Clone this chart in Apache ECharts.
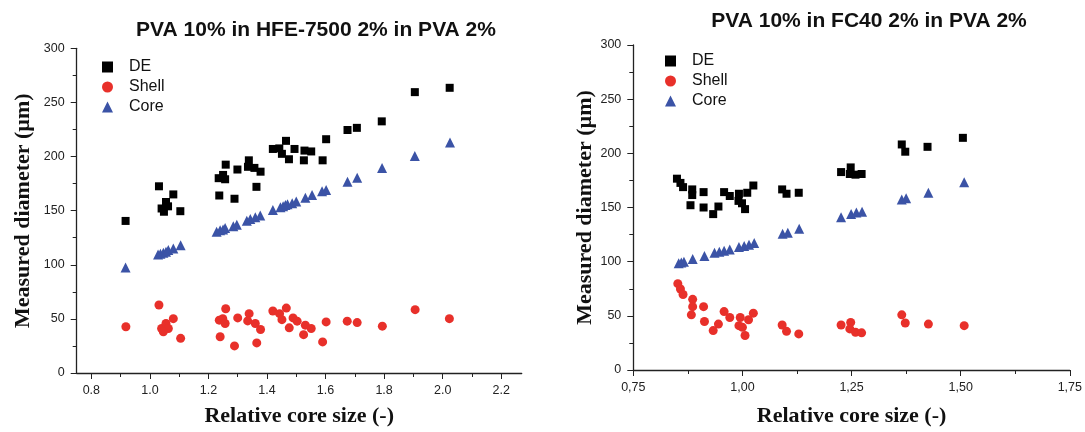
<!DOCTYPE html>
<html>
<head>
<meta charset="utf-8">
<script src="https://cdn.jsdelivr.net/npm/echarts@6/dist/echarts.min.js"></script>
<style>
html,body{margin:0;padding:0;background:#fff;}
#c{width:1085px;height:432px;}
</style>
</head>
<body>
<div id="c"></div>
<script>
// ---- Left chart: PVA 10% in HFE-7500 2% in PVA 2% ----
const leftDE = [
  [0.917,140.5],[1.031,172.5],[1.080,165],[1.055,158],[1.040,152],[1.062,154],[1.048,149],[1.104,149.5],
  [1.237,164],[1.289,161],[1.235,180],[1.250,183],[1.257,179],[1.259,192.5],[1.299,188],[1.338,196.5],
  [1.335,190.5],[1.357,189.5],[1.378,186],[1.364,172],
  [1.420,207],[1.442,207.5],[1.465,214.5],[1.451,202.5],[1.475,197.5],[1.494,207],[1.528,205.5],
  [1.551,204.7],[1.526,196.5],[1.590,196.5],[1.602,216],
  [1.675,224.5],[1.707,226.5],[1.792,232.5],[1.905,259.5],[2.024,263.5]
];
const leftShell = [
  [0.918,42.7],[1.031,62.8],[1.040,41.1],[1.055,45.7],[1.063,41.1],[1.046,38.1],[1.080,50.2],[1.105,32],
  [1.259,59.4],[1.237,48.8],[1.249,50.2],[1.257,45.7],[1.240,33.5],[1.289,25],[1.300,50.9],[1.339,54.8],
  [1.334,48.1],[1.360,45.7],[1.378,40.2],[1.365,27.8],
  [1.420,57.3],[1.443,54.8],[1.466,60],[1.451,49.3],[1.476,41.7],[1.489,50.9],[1.503,47.9],[1.531,44.2],
  [1.551,41.1],[1.525,35.4],[1.602,47.2],[1.590,28.7],
  [1.674,47.9],[1.708,46.6],[1.794,43.3],[1.906,58.5],[2.023,50.2]
];
const leftCore = [
  [0.917,97.5],[1.028,109.6],[1.036,110.2],[1.046,111.2],[1.055,112],[1.063,113.6],[1.080,115.1],[1.105,118],
  [1.228,130.4],[1.240,131.9],[1.250,132.6],[1.257,134],[1.285,135.6],[1.297,137],[1.331,140.7],[1.343,142.2],
  [1.360,143.8],[1.377,145.6],
  [1.420,150.7],[1.446,153.2],[1.455,154],[1.463,155.3],[1.470,155.8],[1.486,156.8],[1.500,158.4],
  [1.531,162],[1.554,164.4],[1.588,168],[1.602,169],
  [1.675,176.7],[1.708,180.3],[1.793,189.4],[1.905,200.4],[2.025,213]
];
// ---- Right chart: PVA 10% in FC40 2% in PVA 2% ----
const rightDE = [
  [0.850,176.6],[0.858,172.7],[0.864,168.8],[0.885,166.7],[0.885,161.5],[0.881,152.1],[0.911,164.2],[0.911,150],
  [0.933,143.9],[0.945,150.9],[0.958,164.2],[0.971,160.6],[0.992,162.7],[0.991,156.1],[0.999,153.9],[1.006,148.5],
  [1.011,163.6],[1.025,170.3],[1.091,166.7],[1.101,162.7],[1.129,163.6],
  [1.226,182.7],[1.248,187],[1.246,180.9],[1.259,180.3],[1.273,180.9],
  [1.365,208.2],[1.373,201.5],[1.424,206],[1.505,214.3]
];
const rightShell = [
  [0.852,79.7],[0.858,74.8],[0.864,69.7],[0.886,65.2],[0.886,58.5],[0.883,50.9],[0.911,58.5],[0.913,44.8],
  [0.933,36.4],[0.945,42.4],[0.958,53.9],[0.971,48.5],[0.995,48.5],[0.992,40.9],[1.000,39.4],[1.006,31.8],
  [1.014,46.4],[1.025,52.5],[1.091,41.5],[1.101,35.7],[1.129,33.3],
  [1.226,41.5],[1.248,43.9],[1.246,37.9],[1.259,34.8],[1.273,34.3],
  [1.365,50.9],[1.373,43.4],[1.426,42.4],[1.508,40.9]
];
const rightCore = [
  [0.854,98.5],[0.860,99.2],[0.866,100],[0.886,102.5],[0.913,105.2],[0.936,108.2],[0.947,109.1],[0.958,110],
  [0.971,111.2],[0.992,113.6],[1.004,114.5],[1.015,115.7],[1.027,117.3],[1.092,125.7],[1.104,126.6],[1.130,130.3],
  [1.226,140.9],[1.249,143.9],[1.261,145.5],[1.274,146.1],[1.365,157.5],[1.375,158.5],[1.426,163.6],[1.508,173.4]
];
// tick labels
const leftXLabels = [0.8,1.0,1.2,1.4,1.6,1.8,2.0,2.2];
const leftXMinor = [0.9,1.1,1.3,1.5,1.7,1.9,2.1];
const titles = ['PVA 10% in HFE-7500 2% in PVA 2%','PVA 10% in FC40 2% in PVA 2%'];
const seriesNames = ['DE','Shell','Core'];

const COLORS = {DE:'#000000', Shell:'#e8302a', Core:'#3b53a6'};
const SYMBOLS = {DE:'rect', Shell:'circle', Core:'triangle'};
const SIZES = {DE:8, Shell:9, Core:10};

const chart = echarts.init(document.getElementById('c'), null, {renderer:'canvas'});
const labelStyle = {color:'#222', fontSize:12.5, fontFamily:'Liberation Sans'};
const nameStyle = {fontFamily:'Liberation Serif', fontWeight:'bold', fontSize:22, color:'#111'};
const axisLine = {show:true, onZero:false, lineStyle:{color:'#222', width:1.3}};

function yAxis(grid, gap){
  return {
    type:'value', gridIndex:grid, min:0, max:300, interval:50,
    name:'Measured diameter (µm)', nameLocation:'middle', nameGap:gap, nameTextStyle:nameStyle,
    axisLine:axisLine, axisTick:{show:true, length:6, lineStyle:{color:'#222'}},
    minorTick:{show:true, splitNumber:2, length:4, lineStyle:{color:'#222'}},
    axisLabel:Object.assign({margin:12}, labelStyle), splitLine:{show:false}
  };
}

const titleStyle = {fontFamily:'Liberation Sans', fontWeight:'bold', fontSize:21, color:'#111'};
const legendText = {fontFamily:'Liberation Sans', fontSize:16, color:'#111', padding:[0,0,0,11]};

const option = {
  backgroundColor:'#fff',
  animation:false,
  title:[
    {text:titles[0], left:311, top:15, textAlign:'center', textStyle:titleStyle},
    {text:titles[1], left:864, top:6, textAlign:'center', textStyle:titleStyle}
  ],
  legend:[
    {orient:'vertical', left:97, top:54, itemWidth:11, itemHeight:11, itemGap:4,
     data:seriesNames, textStyle:legendText},
    {orient:'vertical', left:660, top:48, itemWidth:11, itemHeight:11, itemGap:4,
     data:seriesNames, textStyle:legendText}
  ],
  grid:[
    {left:76.7, right:1085-521.7, top:48.3, bottom:432-376.7},
    {left:633.3, right:1085-1071.7, top:45, bottom:432-375}
  ],
  xAxis:[
    {type:'value', gridIndex:0, min:0.75, max:2.27,
     name:'Relative core size (-)', nameLocation:'middle', nameGap:32, nameTextStyle:nameStyle,
     axisLine:axisLine,
     axisTick:{show:true, length:6, customValues:leftXLabels, lineStyle:{color:'#222'}},
     axisLabel:Object.assign({margin:11, customValues:leftXLabels, formatter:v=>v.toFixed(1)}, labelStyle),
     splitLine:{show:false}},
    {type:'value', gridIndex:0, min:0.75, max:2.27, position:'bottom',
     axisLine:{show:false}, axisLabel:{show:false},
     axisTick:{show:true, length:4, customValues:leftXMinor, lineStyle:{color:'#222'}},
     splitLine:{show:false}},
    {type:'value', gridIndex:1, min:0.75, max:1.75, interval:0.25,
     name:'Relative core size (-)', nameLocation:'middle', nameGap:35, nameTextStyle:nameStyle,
     axisLine:axisLine, axisTick:{show:true, length:6, lineStyle:{color:'#222'}},
     minorTick:{show:true, splitNumber:2, length:4, lineStyle:{color:'#222'}},
     axisLabel:Object.assign({margin:11, formatter:v=>v.toFixed(2).replace('.',',')}, labelStyle),
     splitLine:{show:false}}
  ],
  yAxis:[yAxis(0,42), yAxis(1,33)],
  series:[]
};

function addSeries(name, data, xi, yi){
  option.series.push({
    name:name, type:'scatter', xAxisIndex:xi, yAxisIndex:yi, data:data,
    symbol:SYMBOLS[name], symbolSize:SIZES[name],
    itemStyle:{color:COLORS[name], opacity:1}
  });
}
addSeries('DE', leftDE, 0, 0);
addSeries('Shell', leftShell, 0, 0);
addSeries('Core', leftCore, 0, 0);
addSeries('DE', rightDE, 2, 1);
addSeries('Shell', rightShell, 2, 1);
addSeries('Core', rightCore, 2, 1);

chart.setOption(option);
</script>
</body>
</html>
